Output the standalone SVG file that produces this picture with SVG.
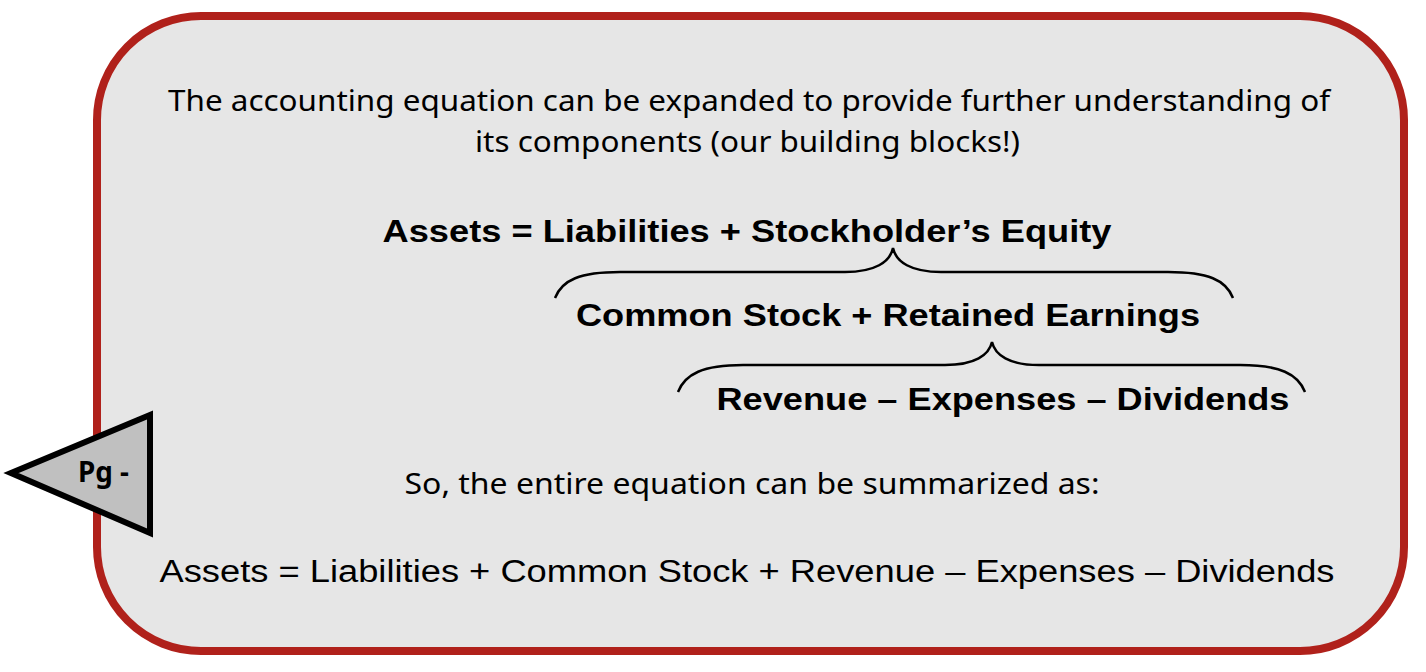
<svg xmlns="http://www.w3.org/2000/svg" width="1426" height="672" viewBox="0 0 1426 672">
<style>
.cal{font-family:"Noto Sans","Open Sans",sans-serif;font-size:29px;fill:#000}
.bold{font-family:"Liberation Sans",Arial,sans-serif;font-weight:bold;font-size:31px;fill:#000}
.reg{font-family:"Liberation Sans",Arial,sans-serif;font-size:31px;fill:#000}
.brace{fill:none;stroke:#000;stroke-width:2.5}
</style>
<rect width="1426" height="672" fill="#ffffff"/>
<g id="panel">
<rect x="97" y="16" width="1307" height="635" rx="104" ry="104" fill="#e6e6e6" stroke="#b0211b" stroke-width="8"/>
<text class="cal" x="749" y="111" text-anchor="middle" textLength="1162" lengthAdjust="spacingAndGlyphs">The accounting equation can be expanded to provide further understanding of</text>
<text class="cal" x="747.5" y="152" text-anchor="middle" textLength="545" lengthAdjust="spacingAndGlyphs">its components (our building blocks!)</text>
</g>
<g id="eq1"><text class="bold" x="747" y="242" text-anchor="middle" textLength="729" lengthAdjust="spacingAndGlyphs">Assets = Liabilities + Stockholder’s Equity</text></g>
<g id="eq2"><text class="bold" x="888" y="326" text-anchor="middle" textLength="624" lengthAdjust="spacingAndGlyphs">Common Stock + Retained Earnings</text></g>
<g id="eq3"><text class="bold" x="1003" y="410" text-anchor="middle" textLength="573" lengthAdjust="spacingAndGlyphs">Revenue – Expenses – Dividends</text></g>
<g id="summary"><text class="cal" x="752" y="494" text-anchor="middle" textLength="695" lengthAdjust="spacingAndGlyphs">So, the entire equation can be summarized as:</text></g>
<g id="final"><text class="reg" x="747" y="582" text-anchor="middle" textLength="1175" lengthAdjust="spacingAndGlyphs">Assets = Liabilities + Common Stock + Revenue – Expenses – Dividends</text></g>
<g id="connectors">
<path class="brace" d="M555,298 C562,280 580,272 620,272 L845,272 C875,272 890,262 893,248 C896,262 911,272 941,272 L1168,272 C1208,272 1226,280 1233,298"/>
<path class="brace" d="M678,392 C685,374 703,365 743,365 L945,365 C975,365 989,355 992,342 C995,355 1009,365 1039,365 L1240,365 C1280,365 1298,374 1305,392"/>
</g>
<g id="pg">
<polygon points="11,473 150,415 150,533" fill="#c0c0c0" stroke="#000" stroke-width="6" stroke-linejoin="miter"/>
<text x="78" y="482" font-family="'Noto Sans','Open Sans',sans-serif" font-weight="bold" font-size="28" fill="#000" textLength="51" lengthAdjust="spacingAndGlyphs">Pg -</text>
</g>
</svg>
